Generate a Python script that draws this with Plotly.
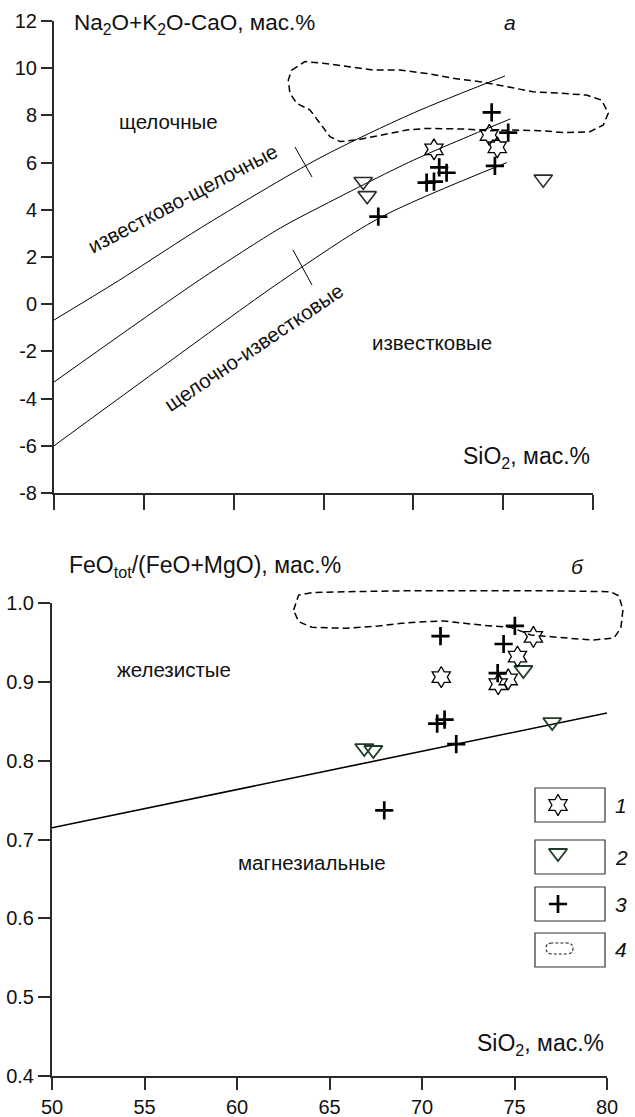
import plotly.graph_objects as go

# ---------------- data: panel a ----------------
top_x_ticks = [50, 55, 60, 65, 70, 75, 80]
top_y_ticks = [-8, -6, -4, -2, 0, 2, 4, 6, 8, 10, 12]

line1_x = [50, 53.6, 58.2, 64.8, 70.0, 75.1]
line1_y = [-0.67, 1.0, 3.25, 6.2, 8.1, 9.67]
line2_x = [50, 58.1, 62.6, 64.8, 70.0, 75.4]
line2_y = [-3.3, 1.03, 3.23, 4.12, 6.1, 7.85]
line3_x = [50, 56.3, 62.6, 68.1, 75.2]
line3_y = [-6.0, -2.5, 0.95, 3.65, 6.0]
tick1_x = [63.41, 64.36]
tick1_y = [6.66, 5.39]
tick3_x = [63.30, 64.36]
tick3_y = [2.30, 0.81]

a_field_x = [63.23, 63.97, 64.99, 66.29, 67.77, 69.25, 70.74, 72.22, 73.71, 75.19,
             76.67, 78.16, 79.64, 80.48, 80.85, 80.57, 79.83, 78.53, 77.05, 75.56,
             74.08, 72.97, 71.85, 70.74, 69.63, 68.14, 66.84, 65.92, 65.36, 64.80,
             64.25, 63.51, 63.13, 63.04, 63.23]
a_field_y = [9.92, 10.28, 10.21, 10.06, 9.92, 9.92, 9.78, 9.57, 9.43, 9.22,
             9.0, 8.94, 8.86, 8.65, 8.09, 7.59, 7.31, 7.27, 7.35, 7.38,
             7.35, 7.42, 7.45, 7.45, 7.38, 7.17, 6.96, 6.89, 7.10, 7.67,
             8.23, 8.51, 8.94, 9.5, 9.92]

a_star_x = [71.15, 74.23, 74.67]
a_star_y = [6.56, 7.17, 6.65]
a_tri_x = [67.21, 67.43, 77.23]
a_tri_y = [5.2, 4.6, 5.3]
a_cross_x = [74.36, 75.28, 74.54, 71.44, 71.85, 70.74, 71.15, 68.05]
a_cross_y = [8.13, 7.27, 5.86, 5.80, 5.57, 5.15, 5.19, 3.71]

# ---------------- data: panel b ----------------
bot_x_ticks = [50, 55, 60, 65, 70, 75, 80]
bot_y_ticks = [0.4, 0.5, 0.6, 0.7, 0.8, 0.9, 1.0]
bot_y_ticktext = ["0.4", "0.5", "0.6", "0.7", "0.8", "0.9", "1.0"]

bline_x = [50, 80]
bline_y = [0.7148, 0.8605]

b_field_x = [63.06, 63.33, 64.05, 65.84, 69.42, 73.01, 76.60, 80.18, 80.65, 80.86,
             80.75, 80.38, 79.28, 78.03, 76.95, 75.88, 74.80, 73.73, 72.30, 71.22,
             70.15, 68.89, 67.63, 65.84, 64.05, 63.33, 63.06]
b_field_y = [0.991, 1.0101, 1.0131, 1.0143, 1.0156, 1.0156, 1.0156, 1.0143, 1.0089, 0.9911,
             0.9683, 0.9556, 0.9531, 0.9552, 0.9573, 0.9594, 0.9692, 0.9708, 0.9742, 0.9772,
             0.9763, 0.9742, 0.9708, 0.9679, 0.9692, 0.9763, 0.991]

b_star_x = [76.02, 75.16, 71.04, 74.12, 74.66]
b_star_y = [0.957, 0.932, 0.906, 0.897, 0.903]
b_tri_x = [75.48, 77.04, 66.88, 67.37]
b_tri_y = [0.915, 0.849, 0.816, 0.8135]
b_cross_x = [75.02, 71.0, 74.41, 74.09, 71.22, 70.82, 71.85, 67.96]
b_cross_y = [0.971, 0.958, 0.948, 0.911, 0.852, 0.847, 0.821, 0.737]

legend_labels = ["1", "2", "3", "4"]

# ---------------- layout helpers ----------------
W, H = 635, 1117
def fx(p):
    return p / W
def fy(p):
    return 1 - p / H

FONT = "Liberation Sans, Arial, sans-serif"
AX = "#2b2b2b"

# pixel geometry of panels
A_X0, A_X1, A_Y0, A_Y1 = 54, 593, 21, 493       # panel a plot area
B_X0, B_X1, B_Y0, B_Y1 = 52, 607, 603, 1076      # panel b plot area
a_pxu = (A_X1 - A_X0) / 30.0
b_pxu = (B_X1 - B_X0) / 30.0
b_pyu = (B_Y1 - B_Y0) / 0.6

fig = go.Figure()

STAR = dict(symbol="hexagram-open", size=16, color="black", line=dict(color="black", width=1.3))
TRI_A = dict(symbol="triangle-down-open", size=16, color="#2a2a2a", line=dict(color="#2a2a2a", width=1.6))
TRI_B = dict(symbol="triangle-down-open", size=16, color="#1f3d28", line=dict(color="#1f3d28", width=1.8))
CROSS = dict(symbol="cross-thin-open", size=13, color="black", line=dict(color="black", width=2.7))

def line(x, y, xa, ya, w=1.0, dash="solid", smooth=False):
    ln = dict(color="black", width=w, dash=dash)
    if smooth:
        ln.update(shape="spline", smoothing=0.8)
    fig.add_trace(go.Scatter(x=x, y=y, mode="lines", xaxis=xa, yaxis=ya, line=ln,
                             hoverinfo="skip", showlegend=False))

def pts(x, y, xa, ya, m):
    fig.add_trace(go.Scatter(x=x, y=y, mode="markers", xaxis=xa, yaxis=ya, marker=m,
                             hoverinfo="skip", showlegend=False, cliponaxis=False))

# panel a
line(line1_x, line1_y, "x", "y", smooth=True)
line(line2_x, line2_y, "x", "y", smooth=True)
line(line3_x, line3_y, "x", "y", smooth=True)
line(tick1_x, tick1_y, "x", "y")
line(tick3_x, tick3_y, "x", "y")
line(a_field_x, a_field_y, "x3", "y", w=1.5, dash="7px,4px")
pts(a_tri_x, a_tri_y, "x", "y", TRI_A)
pts(a_star_x, a_star_y, "x", "y", STAR)
pts(a_cross_x, a_cross_y, "x", "y", CROSS)

# panel b
line(bline_x, bline_y, "x2", "y2", w=1.6)
line(b_field_x, b_field_y, "x4", "y4", w=1.5, dash="7px,4px")
pts(b_tri_x, b_tri_y, "x2", "y2", TRI_B)
pts(b_star_x, b_star_y, "x2", "y2", STAR)
pts(b_cross_x, b_cross_y, "x2", "y2", CROSS)

# legend symbols (pixel helper axes)
pts([558], [805], "x5", "y5", STAR)
pts([558], [853], "x5", "y5", TRI_B)
pts([558], [904], "x5", "y5", CROSS)

axis_common = dict(showgrid=False, zeroline=False, ticks="outside", tickcolor=AX, tickwidth=1.5,
                   linecolor=AX, linewidth=2, showline=True, automargin=False,
                   tickfont=dict(family=FONT, size=20, color="#111"))

fig.update_layout(
    template="none",
    width=W, height=H, margin=dict(l=0, r=0, t=0, b=0, pad=0, autoexpand=False),
    paper_bgcolor="white", plot_bgcolor="rgba(0,0,0,0)",
    xaxis=dict(domain=[fx(A_X0), fx(A_X1)], range=[50, 80], anchor="y",
               tickvals=top_x_ticks, showticklabels=False, ticklen=15, **axis_common),
    yaxis=dict(domain=[fy(A_Y1), fy(A_Y0)], range=[-8, 12], anchor="x",
               tickvals=top_y_ticks, ticktext=[str(v) for v in top_y_ticks], ticklen=11, **axis_common),
    xaxis3=dict(domain=[fx(A_X0), 1.0], range=[50, 50 + (W - A_X0) / a_pxu], anchor="y", visible=False),
    xaxis2=dict(domain=[fx(B_X0), fx(B_X1)], range=[50, 80], anchor="y2",
                tickvals=bot_x_ticks, ticklen=12, **axis_common),
    yaxis2=dict(domain=[fy(B_Y1), fy(B_Y0)], range=[0.4, 1.0], anchor="x2",
                tickvals=bot_y_ticks, ticktext=bot_y_ticktext, ticklen=12, **axis_common),
    xaxis4=dict(domain=[fx(B_X0), 1.0], range=[50, 50 + (W - B_X0) / b_pxu], anchor="y4", visible=False),
    yaxis4=dict(domain=[fy(B_Y1), fy(560)], range=[0.4, 1.0 + (B_Y0 - 560) / b_pyu], anchor="x4", visible=False),
    xaxis5=dict(domain=[0, 1], range=[0, W], anchor="y5", visible=False),
    yaxis5=dict(domain=[0, 1], range=[H, 0], anchor="x5", visible=False),
)

def txt(x, y, s, size=20.5, xanchor="center", angle=0, italic=False):
    fig.add_annotation(x=fx(x), y=fy(y), xref="paper", yref="paper", text=s, showarrow=False,
                       xanchor=xanchor, yanchor="middle", textangle=angle,
                       font=dict(family=FONT, size=size, color="#111",
                                 style="italic" if italic else "normal"))

txt(72, 24, "Na<sub>2</sub>O+K<sub>2</sub>O-CaO, мас.%", size=22.5, xanchor="left")
txt(510, 23, "а", size=21, italic=True)
txt(168, 121, "щелочные")
txt(182, 198, "известково-щелочные", angle=-27.7)
txt(253, 347, "щелочно-известковые", angle=-34)
txt(432, 342, "известковые")
txt(592, 458, "SiO<sub>2</sub>, мас.%", size=23, xanchor="right")

txt(67, 566, "FeO<sub>tot</sub>/(FeO+MgO), мас.%", size=23, xanchor="left")
txt(577, 566, "б", size=21, italic=True)
txt(174, 669, "железистые")
txt(312, 863, "магнезиальные")
txt(606, 1044, "SiO<sub>2</sub>, мас.%", size=23, xanchor="right")

leg_y = [805, 857, 904, 950]
for lab, yy in zip(legend_labels, leg_y):
    txt(621, yy, lab, size=21, italic=True)
    fig.add_shape(type="rect", xref="paper", yref="paper",
                  x0=fx(535), x1=fx(605), y0=fy(yy - 17), y1=fy(yy + 17),
                  line=dict(color="#333", width=1.2), fillcolor="rgba(0,0,0,0)")

fig.add_shape(type="path", xref="x5", yref="y5",
              path="M 552,943 Q 546,943 546,948 Q 546,954 552,954 L 567,954 Q 573,954 573,948 Q 573,943 567,943 Z",
              line=dict(color="#222", width=1.1, dash="3px,2px"))

fig.write_html("out.html", config={"displayModeBar": False},
               post_script="document.body.style.margin='0px';document.body.style.overflow='hidden';")
